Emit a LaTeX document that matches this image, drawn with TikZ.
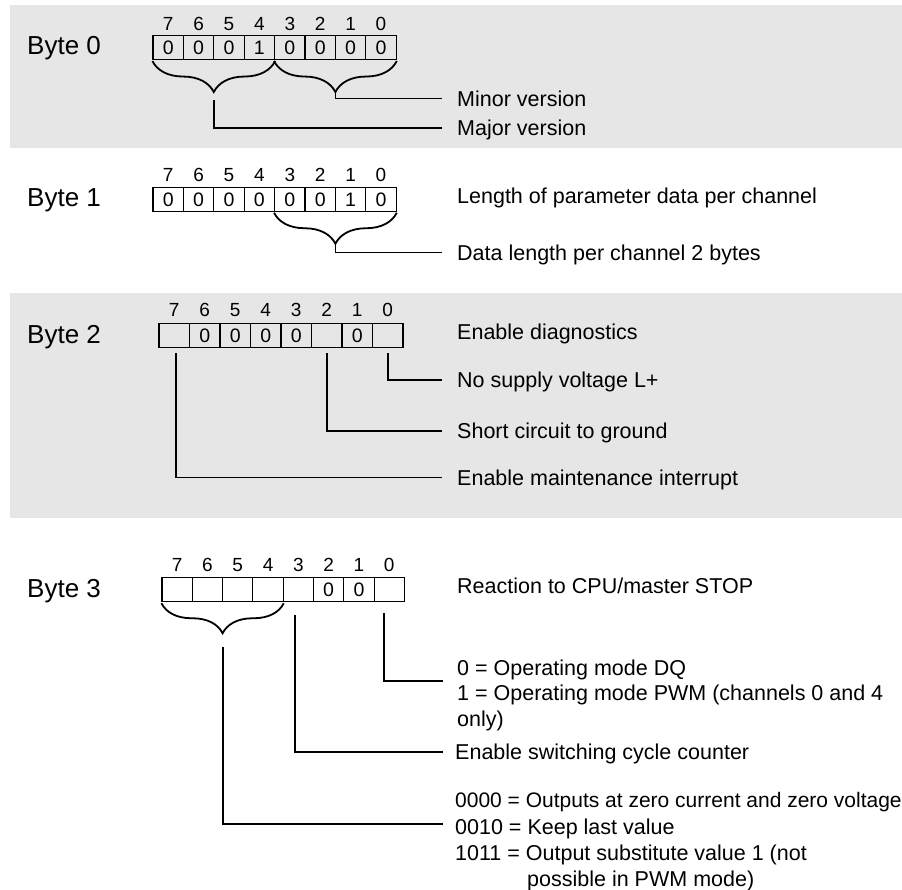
\documentclass[tikz,border=0pt]{standalone}
\usepackage{fontspec}
\setmainfont{Liberation Sans}
\usetikzlibrary{decorations.pathreplacing,calc}
\definecolor{panel}{RGB}{230,230,230}
\begin{document}
\begin{tikzpicture}[x=1pt,y=-1pt,
  cell/.style={draw, line width=1.1pt, minimum width=30.4pt, minimum height=24pt, inner sep=0pt,
    font=\fontsize{19.5}{19.5}\selectfont, text height=14pt, text depth=0pt},
  bitno/.style={inner sep=0pt, font=\fontsize{19}{19}\selectfont, text height=13.6pt, text depth=0pt},
  bytelbl/.style={anchor=west, inner sep=0pt, font=\fontsize{26}{26}\selectfont, text height=18.6pt, text depth=0pt},
  desc/.style={anchor=west, inner sep=0pt, font=\fontsize{21.5}{21.5}\selectfont, text height=15.4pt, text depth=0pt},
  conn/.style={line width=1.8pt},
  brc/.style={decorate, decoration={brace, mirror, amplitude=31pt}, line width=1.8pt},
]
\useasboundingbox (0,0) rectangle (902,890);
\fill[panel] (10,5) rectangle (902,148);
\fill[panel] (10,293) rectangle (902,518);

% ---------- Byte 0 ----------
\node[bytelbl] (B0) at (27,45) {Byte 0};
\foreach \b/\v [count=\k from 0] in {7/0,6/0,5/0,4/1,3/0,2/0,1/0,0/0}{
  \node[cell] (b0c\b) at ({153+30.4*\k+15.2},47.5) {\v};
  \node[bitno] (b0n\b) at ({153+30.4*\k+15.2},23.3) {\b};
}
\draw[brc] ([yshift=-1pt]b0c7.south west) -- ([yshift=-1pt]b0c4.south east);
\draw[brc] ([yshift=-1pt]b0c3.south west) -- ([yshift=-1pt]b0c0.south east);
\coordinate (t0a) at ($(b0c7.south west)!0.5!(b0c4.south east)+(0,32)$);
\coordinate (t0b) at ($(b0c3.south west)!0.5!(b0c0.south east)+(0,32)$);
\node[desc] (d0a) at (457,98.5) {Minor version};
\node[desc] (d0b) at (457,128) {Major version};
\draw[conn] ([yshift=-1pt]t0b) |- ([xshift=-15pt]d0a.west);
\draw[conn] ([yshift=-8pt]t0a) |- ([xshift=-15pt]d0b.west);

% ---------- Byte 1 ----------
\node[bytelbl] (B1) at (27,197.5) {Byte 1};
\foreach \b/\v [count=\k from 0] in {7/0,6/0,5/0,4/0,3/0,2/0,1/1,0/0}{
  \node[cell] (b1c\b) at ({153+30.4*\k+15.2},199.2) {\v};
  \node[bitno] (b1n\b) at ({153+30.4*\k+15.2},175) {\b};
}
\draw[brc] ([yshift=-1pt]b1c3.south west) -- ([yshift=-1pt]b1c0.south east);
\coordinate (t1a) at ($(b1c3.south west)!0.5!(b1c0.south east)+(0,32)$);
\node[desc] (d1a) at (457,196) {Length of parameter data per channel};
\node[desc] (d1b) at (457,252.5) {Data length per channel 2 bytes};
\draw[conn] ([yshift=-1pt]t1a) |- ([xshift=-15pt]d1b.west);

% ---------- Byte 2 ----------
\node[bytelbl] (B2) at (27,334) {Byte 2};
\foreach \b/\v [count=\k from 0] in {7/,6/0,5/0,4/0,3/0,2/,1/0,0/}{
  \node[cell, minimum width=30.5pt] (b2c\b) at ({159+30.5*\k+15.25},335.5) {\v};
  \node[bitno] (b2n\b) at ({159+30.5*\k+15.25},310) {\b};
}
\node[desc] (d2a) at (457,332) {Enable diagnostics};
\node[desc] (d2b) at (457,380) {No supply voltage L+};
\node[desc] (d2c) at (457,431) {Short circuit to ground};
\node[desc] (d2d) at (457,477.5) {Enable maintenance interrupt};
\draw[conn] ([yshift=-5pt]b2c0.south) |- ([xshift=-15pt]d2b.west);
\draw[conn] ([yshift=-5pt]b2c2.south) |- ([xshift=-15pt]d2c.west);
\draw[conn] ([xshift=1.5pt,yshift=-5pt]b2c7.south) |- ([xshift=-15pt]d2d.west);

% ---------- Byte 3 ----------
\node[bytelbl] (B3) at (27,588) {Byte 3};
\foreach \b/\v [count=\k from 0] in {7/,6/,5/,4/,3/,2/0,1/0,0/}{
  \node[cell, minimum width=30.3pt] (b3c\b) at ({162+30.3*\k+15.15},589.7) {\v};
  \node[bitno] (b3n\b) at ({162+30.3*\k+15.15},564.7) {\b};
}
\draw[brc, decoration={brace, mirror, amplitude=30pt}] ([yshift=-1pt]b3c7.south west) -- ([yshift=-1pt]b3c4.south east);
\coordinate (t3a) at ($(b3c7.south west)!0.5!(b3c4.south east)+(0,31)$);
\node[desc] (d3a) at (457,586) {Reaction to CPU/master STOP};
\node[desc] (d3b) at (457,667.5) {0 = Operating mode DQ};
\node[desc] (d3c) at (457,693) {1 = Operating mode PWM (channels 0 and 4};
\node[desc] (d3d) at (457,718.5) {only)};
\node[desc] (d3e) at (455,752) {Enable switching cycle counter};
\node[desc, font=\fontsize{21}{21}\selectfont] (d3f) at (455,800) {0000 = Outputs at zero current and zero voltage};
\node[desc] (d3g) at (455,826.5) {0010 = Keep last value};
\node[desc] (d3h) at (455,852.5) {1011 = Output substitute value 1 (not};
\node[desc] (d3i) at (527,878.5) {possible in PWM mode)};
\coordinate (j3a) at (443,681);
\coordinate (j3c) at (443,824);
\draw[conn] ([xshift=-5pt,yshift=-11pt]b3c0.south) |- (j3a);
\draw[conn] ([xshift=-3pt,yshift=-13pt]b3c3.south) |- ([xshift=-12pt]d3e.west);
\draw[conn] ([yshift=-14pt]t3a) |- (j3c);
\end{tikzpicture}
\end{document}
